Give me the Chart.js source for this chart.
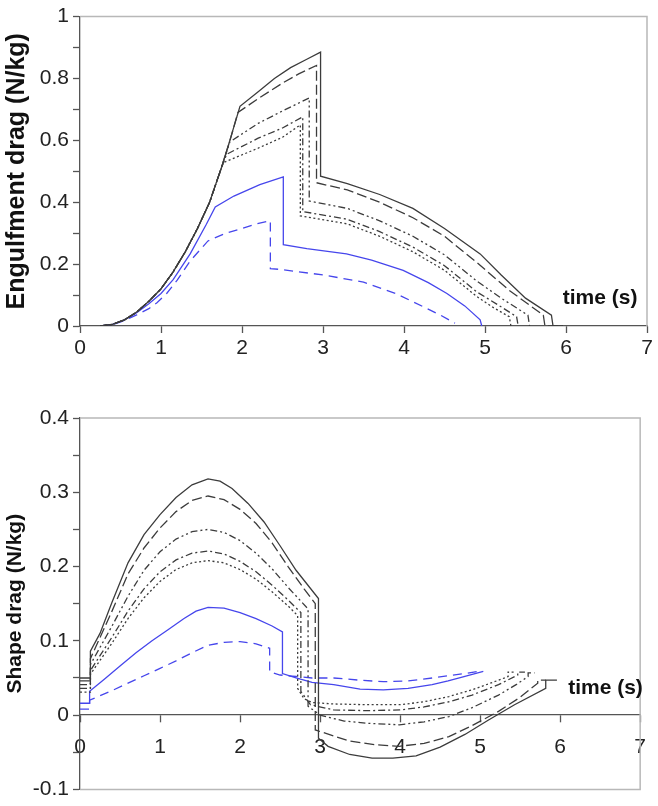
<!DOCTYPE html>
<html><head><meta charset="utf-8">
<script src="https://cdn.jsdelivr.net/npm/chart.js@4.4.1/dist/chart.umd.min.js"></script>
<style>
html,body{margin:0;padding:0;background:#fff;}
#w1{position:absolute;left:0;top:0;width:658px;height:370px;}
#w2{position:absolute;left:0;top:370px;width:658px;height:436px;}
</style></head><body>
<div id="w1"><canvas id="c1" width="658" height="370"></canvas></div>
<div id="w2"><canvas id="c2" width="658" height="436"></canvas></div>
<script>
// ---------- Engulfment drag (top) ----------
const engSolidT = [0.25,0.4,0.55,0.7,0.85,1.0,1.15,1.3,1.45,1.6,1.75,1.85,1.975,2.2,2.4,2.6,2.8,2.97,2.97,3.3,3.7,4.11,4.5,4.94,5.2,5.5,5.82,5.84,5.96];
const engSolidV = [0,0.005,0.02,0.045,0.08,0.12,0.175,0.24,0.315,0.4,0.515,0.6,0.71,0.757,0.8,0.835,0.862,0.885,0.484,0.46,0.425,0.38,0.315,0.233,0.165,0.09,0.035,0,0];
const engLongT = [0.25,0.4,0.55,0.7,0.85,1.0,1.15,1.3,1.45,1.6,1.75,1.85,1.95,2.2,2.5,2.7,2.92,2.92,3.3,3.7,4.11,4.5,4.9,5.3,5.72,5.74,5.96];
const engLongV = [0,0.005,0.02,0.045,0.08,0.12,0.175,0.24,0.315,0.4,0.515,0.598,0.69,0.735,0.785,0.815,0.842,0.463,0.44,0.40,0.35,0.29,0.205,0.115,0.035,0,0];
const engDddT = [0.25,0.4,0.55,0.7,0.85,1.0,1.15,1.3,1.45,1.6,1.75,1.85,2.2,2.5,2.83,2.83,3.3,3.7,4.11,4.5,4.9,5.2,5.53,5.55];
const engDddV = [0,0.005,0.02,0.045,0.08,0.12,0.175,0.24,0.315,0.4,0.515,0.595,0.655,0.695,0.737,0.404,0.38,0.34,0.29,0.23,0.145,0.09,0.035,0];
const engDdT = [0.25,0.4,0.55,0.7,0.85,1.0,1.15,1.3,1.45,1.6,1.75,1.81,2.2,2.5,2.75,2.75,3.3,3.7,4.11,4.5,4.9,5.15,5.39,5.41];
const engDdV = [0,0.005,0.02,0.045,0.08,0.12,0.175,0.24,0.315,0.4,0.515,0.555,0.607,0.64,0.676,0.37,0.345,0.305,0.255,0.195,0.11,0.07,0.03,0];
const engDotT = [0.25,0.4,0.55,0.7,0.85,1.0,1.15,1.3,1.45,1.6,1.77,2.2,2.5,2.72,2.72,3.3,3.7,4.11,4.5,4.9,5.1,5.30,5.32];
const engDotV = [0,0.005,0.02,0.045,0.08,0.12,0.175,0.24,0.315,0.4,0.528,0.575,0.61,0.65,0.356,0.33,0.29,0.24,0.18,0.095,0.06,0.03,0];
const engBlueT = [0.25,0.4,0.55,0.7,0.85,1.0,1.15,1.36,1.56,1.67,1.9,2.22,2.51,2.51,2.8,3.29,3.6,3.99,4.3,4.53,4.75,4.94,4.96];
const engBlueV = [0,0.005,0.02,0.043,0.072,0.105,0.15,0.233,0.329,0.385,0.42,0.457,0.482,0.263,0.25,0.233,0.213,0.18,0.14,0.105,0.065,0.02,0];
const engBlueDT = [0.25,0.4,0.55,0.7,0.85,0.95,1.07,1.2,1.36,1.58,1.8,2.0,2.18,2.35,2.35,2.47,3.0,3.5,3.9,4.24,4.45,4.63];
const engBlueDV = [0,0.004,0.018,0.036,0.056,0.075,0.105,0.148,0.21,0.275,0.3,0.315,0.33,0.34,0.185,0.183,0.165,0.142,0.105,0.062,0.035,0.009];

// ---------- Shape drag (bottom) ----------
const shpSolidT = [0,0.13,0.13,0.25,0.4,0.6,0.8,1.0,1.2,1.4,1.6,1.75,1.9,2.1,2.3,2.5,2.7,2.98,2.98,3.1,3.37,3.65,3.91,4.2,4.5,4.81,5.1,5.43,5.82,5.82,5.96];
const shpSolidV = [0.05,0.05,0.086,0.11,0.152,0.205,0.243,0.27,0.293,0.31,0.318,0.315,0.305,0.285,0.26,0.228,0.195,0.157,-0.031,-0.042,-0.053,-0.058,-0.058,-0.055,-0.043,-0.026,-0.007,0.014,0.036,0.047,0.047];
const shpLongT = [0,0.13,0.13,0.4,0.6,0.8,1.0,1.2,1.4,1.6,1.8,2.0,2.2,2.4,2.6,2.8,2.94,2.94,3.37,3.7,3.99,4.3,4.61,4.9,5.23,5.5,5.72,5.72,5.82];
const shpLongV = [0.046,0.046,0.076,0.14,0.19,0.225,0.252,0.274,0.289,0.295,0.29,0.277,0.258,0.232,0.2,0.17,0.15,-0.02,-0.035,-0.04,-0.042,-0.038,-0.029,-0.014,0.005,0.024,0.043,0.047,0.047];
const shpDddT = [0,0.13,0.13,0.4,0.6,0.8,1.0,1.2,1.4,1.6,1.8,2.0,2.2,2.4,2.6,2.85,2.85,3.0,3.3,3.6,3.99,4.3,4.61,4.9,5.23,5.45,5.6,5.6,5.68];
const shpDddV = [0.041,0.041,0.068,0.12,0.16,0.195,0.22,0.237,0.247,0.25,0.246,0.235,0.218,0.197,0.172,0.143,0.012,0.0,-0.008,-0.011,-0.013,-0.009,-0.002,0.01,0.027,0.041,0.052,0.057,0.057];
const shpDdT = [0,0.13,0.13,0.4,0.6,0.8,1.0,1.2,1.4,1.6,1.8,2.0,2.2,2.4,2.6,2.76,2.76,2.88,3.17,3.6,4.0,4.3,4.61,4.9,5.23,5.47,5.47,5.56];
const shpDdV = [0.036,0.036,0.06,0.105,0.14,0.17,0.193,0.209,0.218,0.221,0.217,0.207,0.193,0.175,0.155,0.138,0.032,0.014,0.007,0.006,0.007,0.011,0.018,0.027,0.041,0.054,0.058,0.058];
const shpDotT = [0,0.13,0.13,0.4,0.6,0.8,1.0,1.2,1.4,1.6,1.8,2.0,2.2,2.4,2.6,2.72,2.72,2.8,2.9,3.17,3.6,4.0,4.3,4.61,4.9,5.23,5.35,5.35,5.45];
const shpDotV = [0.031,0.031,0.055,0.097,0.13,0.158,0.18,0.196,0.205,0.208,0.205,0.196,0.183,0.166,0.147,0.134,0.036,0.022,0.017,0.015,0.014,0.014,0.018,0.025,0.034,0.047,0.052,0.058,0.058];
const shpBlueT = [0,0.12,0.12,0.3,0.5,0.7,0.9,1.1,1.3,1.45,1.6,1.8,2.0,2.2,2.4,2.53,2.53,2.7,2.9,3.17,3.5,3.79,4.1,4.4,4.6,4.81,5.04];
const shpBlueV = [0.016,0.016,0.032,0.048,0.066,0.084,0.1,0.115,0.13,0.14,0.145,0.144,0.138,0.13,0.12,0.112,0.056,0.05,0.044,0.041,0.035,0.034,0.036,0.041,0.046,0.052,0.059];
const shpBlueDT = [0,0.12,0.12,0.4,0.6,0.8,1.0,1.2,1.4,1.6,1.8,2.0,2.2,2.37,2.37,2.5,2.7,2.9,3.17,3.5,3.79,4.1,4.4,4.6,4.81,4.98];
const shpBlueDV = [0.008,0.008,0.02,0.033,0.043,0.053,0.063,0.073,0.084,0.094,0.098,0.099,0.096,0.09,0.058,0.054,0.052,0.05,0.05,0.047,0.045,0.046,0.05,0.053,0.056,0.059];

const xTicks = [0,1,2,3,4,5,6,7];
const engYTickLabels = ['0','0.2','0.4','0.6','0.8','1'];
const shpYTickLabels = ['-0.1','0','0.1','0.2','0.3','0.4'];
const xTitle = 'time (s)';

// ---------- styles ----------
const BLACK = '#3c3c3c';
const BLUE = '#4646ec';
const seriesStyles = [
  {color: BLACK, dash: []},
  {color: BLACK, dash: [10,4]},
  {color: BLACK, dash: [7,3,2,3,2,3]},
  {color: BLACK, dash: [7,3,2,3]},
  {color: BLACK, dash: [2,2.5]},
  {color: BLUE, dash: []},
  {color: BLUE, dash: [9,6]}
];
const FONT = '"Liberation Sans", Arial, Helvetica, sans-serif';

function pts(t, v) { return t.map((x, i) => ({x: x, y: v[i]})); }
function makeSets(list) {
  return list.map((p, i) => ({
    data: pts(p[0], p[1]),
    showLine: true,
    borderColor: seriesStyles[i].color,
    borderDash: seriesStyles[i].dash,
    borderWidth: 1.3,
    pointRadius: 0,
    fill: false,
    tension: 0
  }));
}

const framePlugin = {
  id: 'frame',
  beforeDatasetsDraw(chart, args, opts) {
    const ctx = chart.ctx, a = chart.chartArea;
    ctx.save();
    ctx.strokeStyle = '#b8b8b8';
    ctx.lineWidth = 1.5;
    ctx.beginPath();
    ctx.moveTo(a.left, a.top);
    ctx.lineTo(a.right, a.top);
    ctx.lineTo(a.right, a.bottom);
    if (opts.closeBottom) ctx.lineTo(a.left, a.bottom);
    ctx.stroke();
    ctx.restore();
  },
  afterDatasetsDraw(chart, args, opts) {
    const ctx = chart.ctx;
    const px = chart.scales.x.getPixelForValue(opts.labelX);
    const py = chart.scales.y.getPixelForValue(opts.labelY);
    ctx.save();
    ctx.font = 'bold 21px ' + FONT;
    ctx.fillStyle = '#111';
    ctx.textAlign = 'left';
    ctx.textBaseline = 'middle';
    ctx.fillText(xTitle, px, py);
    ctx.restore();
  }
};

function baseOptions(o) {
  return {
    responsive: false,
    animation: false,
    layout: {padding: o.padding},
    plugins: {legend: {display: false}, tooltip: {enabled: false}, frame: o.frame},
    scales: {
      x: {
        type: 'linear', min: 0, max: 7, position: o.xPos,
        afterBuildTicks: s => { s.ticks = xTicks.map(v => ({value: v})); },
        afterFit: o.xFit,
        grid: {drawOnChartArea: false, drawTicks: true, tickLength: 7, tickColor: '#555', tickWidth: 1.3},
        border: {display: true, color: '#555', width: 1.3},
        ticks: {font: {family: FONT, size: 21}, color: '#222', padding: o.xPad, maxRotation: 0, autoSkip: false, callback: v => String(v)}
      },
      y: {
        type: 'linear', min: o.yMin, max: o.yMax, position: 'left',
        afterBuildTicks: s => { s.ticks = o.yTickVals.map(v => ({value: v})); },
        afterFit: s => { s.width = 80; },
        grid: {drawOnChartArea: false, drawTicks: true, tickLength: 7, tickColor: '#555', tickWidth: 1.3},
        border: {display: true, color: '#555', width: 1.3},
        ticks: {font: {family: FONT, size: 21}, color: '#222', padding: 4, autoSkip: false, callback: o.yLabel},
        title: {display: true, text: o.yTitle, color: '#111', font: {family: FONT, size: o.yTitleSize, weight: 'bold', lineHeight: 1}, padding: {top: 5, bottom: 0}}
      }
    }
  };
}

// tick values (minor ticks between labelled ones)
const engTickVals = [0,0.1,0.2,0.3,0.4,0.5,0.6,0.7,0.8,0.9,1.0];
const shpTickVals = [-0.1,-0.05,0,0.05,0.1,0.15,0.2,0.25,0.3,0.35,0.4];

new Chart(document.getElementById('c1'), {
  type: 'scatter',
  data: {datasets: makeSets([
    [engSolidT, engSolidV], [engLongT, engLongV], [engDddT, engDddV], [engDdT, engDdV],
    [engDotT, engDotV], [engBlueT, engBlueV], [engBlueDT, engBlueDV]])},
  options: baseOptions({
    padding: {top: 14, right: 11, left: 0, bottom: 0},
    frame: {closeBottom: false, labelX: 5.96, labelY: 0.09},
    xPos: 'bottom', xPad: 3,
    xFit: s => { s.height = 44; },
    yMin: 0, yMax: 1, yTickVals: engTickVals,
    yLabel: v => { const k = Math.round(v * 10); return k % 2 === 0 ? engYTickLabels[k / 2] : ''; },
    yTitle: 'Engulfment drag (N/kg)', yTitleSize: 25
  }),
  plugins: [framePlugin]
});

new Chart(document.getElementById('c2'), {
  type: 'scatter',
  data: {datasets: makeSets([
    [shpSolidT, shpSolidV], [shpLongT, shpLongV], [shpDddT, shpDddV], [shpDdT, shpDdV],
    [shpDotT, shpDotV], [shpBlueT, shpBlueV], [shpBlueDT, shpBlueDV]])},
  options: baseOptions({
    padding: {top: 48, right: 11, left: 0, bottom: 14},
    frame: {closeBottom: true, labelX: 6.1, labelY: 0.036},
    xPos: {y: 0}, xPad: 12,
    xFit: undefined,
    yMin: -0.1, yMax: 0.4, yTickVals: shpTickVals,
    yLabel: v => { const k = Math.round(v * 100); return k % 10 === 0 ? shpYTickLabels[k / 10 + 1] : ''; },
    yTitle: 'Shape drag (N/kg)', yTitleSize: 21
  }),
  plugins: [framePlugin]
});
</script>
</body></html>
